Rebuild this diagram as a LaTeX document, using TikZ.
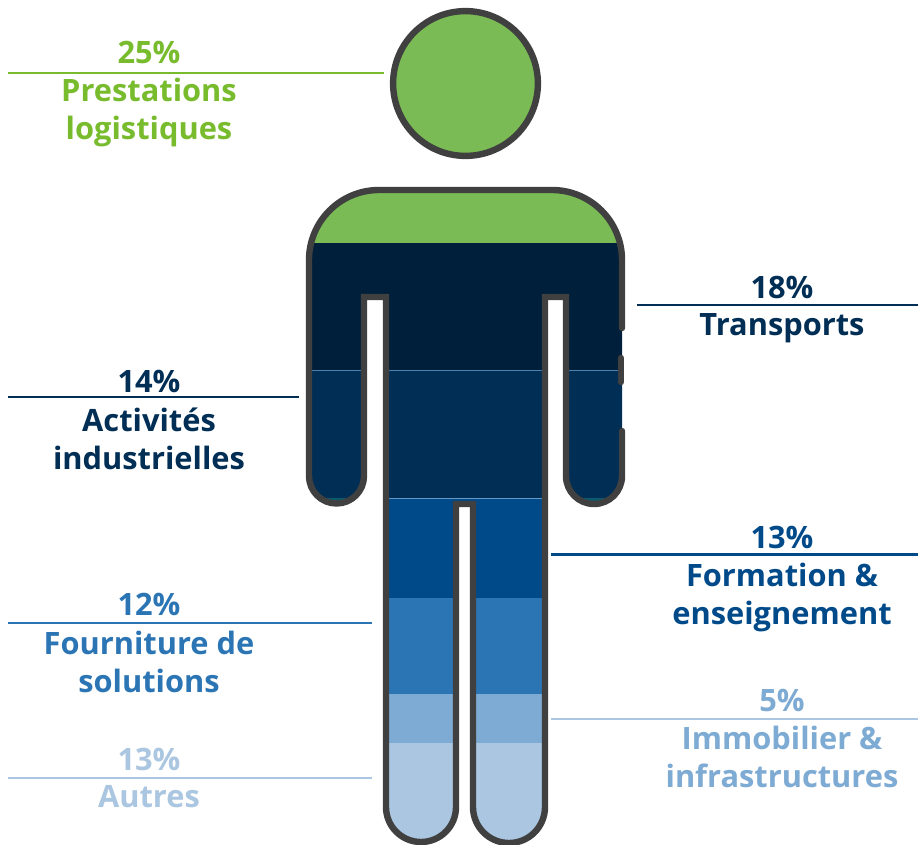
\documentclass[tikz,border=0pt]{standalone}
\usepackage{fontspec}
\setmainfont{Open Sans}
\definecolor{cgreen}{HTML}{7ABB55}
\definecolor{tgreen}{HTML}{78BC2E}
\definecolor{cnavy}{HTML}{001F3A}
\definecolor{cdeep}{HTML}{002E55}
\definecolor{cteal}{HTML}{0C5A6E}
\definecolor{cblue}{HTML}{004A8A}
\definecolor{cmid}{HTML}{2B75B5}
\definecolor{clight}{HTML}{7EABD3}
\definecolor{cpale}{HTML}{AAC6E0}
\definecolor{coutline}{HTML}{404040}
\begin{document}
\begin{tikzpicture}[x=0.75pt,y=-0.75pt,
  outline/.style={draw=coutline,line width=4.8pt},
  rulea/.style={line width=1.9pt},
  label/.style={font=\bfseries\fontsize{23.1pt}{28.5pt}\selectfont,align=center,anchor=center,inner sep=0pt}]
\useasboundingbox (0,0) rectangle (918,845);
\fill[white] (0,0) rectangle (918,845);
\begin{scope}
  \clip (309,260) arc[start angle=180,end angle=270,radius=70] -- (552,190) arc[start angle=270,end angle=360,radius=70] -- (622,476) arc[start angle=0,end angle=180,radius=28] -- (566,297) -- (545,297) -- (545,807) arc[start angle=0,end angle=180,radius=36] -- (473,504) -- (456,504) -- (456,807) arc[start angle=0,end angle=180,radius=35] -- (386,297) -- (364,297) -- (364,476) arc[start angle=0,end angle=180,radius=27.5] -- cycle;
  \fill[cgreen] (300,180) rectangle (630,243);
  \fill[cnavy] (300,243) rectangle (630,370);
  \fill[cdeep] (300,370) rectangle (630,497.5);
  \fill[cteal] (300,497.5) rectangle (380,510);
  \fill[cteal] (555,497.5) rectangle (630,510);
  \fill[cblue] (380,498) rectangle (555,598);
  \fill[cmid] (380,598) rectangle (555,694);
  \fill[clight] (380,694) rectangle (555,743);
  \fill[cpale] (380,743) rectangle (555,850);
  \draw[line width=0.4pt,color=clight!80!cblue] (380,498) -- (555,498);
  \draw[line width=0.3pt,color=cblue!70!white] (300,370) -- (630,370);
\end{scope}
% outline, with the two gaps on the right arm
\draw[outline,line cap=round] (622,328) -- (622,260) arc[start angle=0,end angle=-90,radius=70] -- (379,190) arc[start angle=-90,end angle=-180,radius=70] -- (309,476) arc[start angle=180,end angle=0,radius=27.5] -- (364,297) -- (386,297) -- (386,807) arc[start angle=180,end angle=0,radius=35] -- (456,504) -- (473,504) -- (473,807) arc[start angle=180,end angle=0,radius=36] -- (545,297) -- (566,297) -- (566,476) arc[start angle=180,end angle=0,radius=28] -- (622,431);
\draw[outline,line cap=round] (621,358) -- (621,382);
% head
\node[circle,draw=coutline,line width=4.8pt,fill=cgreen,minimum size=108.6pt,inner sep=0pt] (head) at (465.5,83.5) {};
% rules
\coordinate (a1) at (8,73); \coordinate (a2) at (384,73);
\coordinate (b1) at (637,305); \coordinate (b2) at (918,305);
\coordinate (c1) at (8,397); \coordinate (c2) at (299,397);
\coordinate (d1) at (551,554.5); \coordinate (d2) at (918,554.5);
\coordinate (e1) at (8,623); \coordinate (e2) at (372,623);
\coordinate (f1) at (8,778); \coordinate (f2) at (372,778);
\coordinate (g1) at (551,719); \coordinate (g2) at (918,719);
\draw[rulea,tgreen] (a1) -- (a2);
\draw[rulea,cdeep] (b1) -- (b2);
\draw[rulea,cdeep] (c1) -- (c2);
\draw[rulea,cblue] (d1) -- (d2);
\draw[rulea,cmid] (e1) -- (e2);
\draw[rulea,cpale] (f1) -- (f2);
\draw[rulea,cpale] (g1) -- (g2);
% labels
\node[label,text=tgreen] (la) at (149,53) {25\%};
\node[label,text=tgreen] (lb) at (149,113) {Prestations\\logistiques};
\node[label,text=cdeep] (lc) at (782,287) {18\%};
\node[label,text=cdeep] (ld) at (782,328) {Transports};
\node[label,text=cdeep] (le) at (149,381) {14\%};
\node[label,text=cdeep] (lf) at (149,439) {Activités\\industrielles};
\node[label,text=cblue] (lg) at (782,537) {13\%};
\node[label,text=cblue] (lh) at (782,597) {Formation \&\\enseignement};
\node[label,text=cmid] (li) at (149,604) {12\%};
\node[label,text=cmid] (lj) at (149,662) {Fourniture de\\solutions};
\node[label,text=clight] (lk) at (782,700) {5\%};
\node[label,text=clight] (ll) at (782,757) {Immobilier \&\\infrastructures};
\node[label,text=cpale] (lm) at (149,759) {13\%};
\node[label,text=cpale] (ln) at (149,797) {Autres};
\end{tikzpicture}
\end{document}
